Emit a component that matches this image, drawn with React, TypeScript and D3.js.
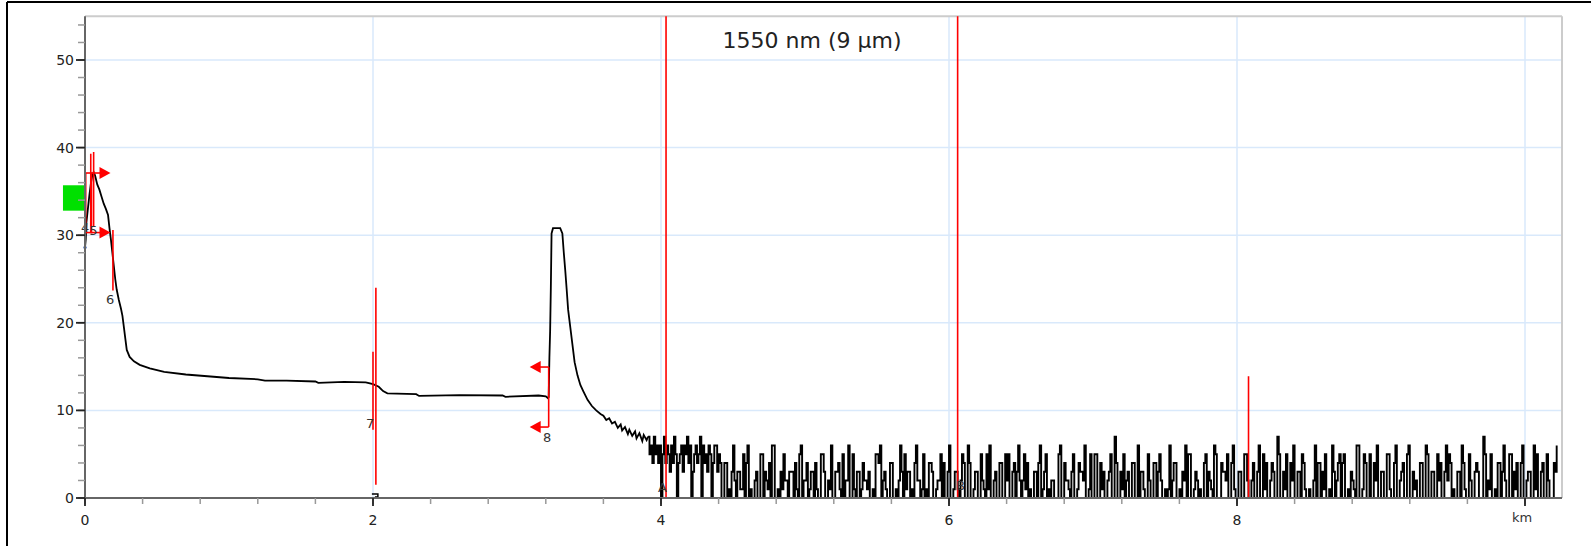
import React from "react";
import * as d3 from "d3";

// ---------- data ----------
const title = "1550 nm (9 µm)";
const yTicks = [0, 10, 20, 30, 40, 50];
const yMinor = d3.range(0, 56, 2);
const xTicks = [0, 2, 4, 6, 8];
const xMinor = d3.range(0, 10.3, 0.4);
const xGrid = [2, 4, 6, 8, 10];
const xUnit = "km";

// trace before the noise floor (km, dB)
const traceKm = [0, 0.005, 0.01, 0.02, 0.03, 0.04, 0.05, 0.06, 0.07, 0.085, 0.1, 0.115, 0.13, 0.145, 0.16, 0.17, 0.18, 0.19, 0.2, 0.21, 0.22, 0.235, 0.25, 0.26, 0.27, 0.28, 0.29, 0.31, 0.34, 0.38, 0.45, 0.55, 0.7, 0.85, 1.0, 1.2, 1.25, 1.4, 1.6, 1.62, 1.8, 1.95, 2.0, 2.04, 2.07, 2.1, 2.3, 2.32, 2.6, 2.9, 2.92, 3.15, 3.2, 3.215, 3.22, 3.225, 3.23, 3.235, 3.24, 3.25, 3.3, 3.315, 3.325, 3.335, 3.345, 3.355, 3.37, 3.385, 3.4, 3.42, 3.44, 3.46, 3.49, 3.52, 3.55, 3.58, 3.6, 3.62, 3.64, 3.66, 3.68, 3.7, 3.72, 3.73, 3.75, 3.77, 3.78, 3.8, 3.82, 3.83, 3.85, 3.87, 3.88, 3.9, 3.91];
const traceDb = [28.6, 29.5, 31.5, 33, 34.5, 35.8, 36.8, 37.2, 36.8, 35.8, 35.2, 34.4, 33.6, 33.0, 32.3, 30.8, 29.5, 28.0, 26.5, 25.0, 23.8, 22.6, 21.6, 20.8, 19.5, 18.2, 16.9, 16.1, 15.6, 15.2, 14.8, 14.4, 14.1, 13.9, 13.7, 13.55, 13.4, 13.4, 13.3, 13.15, 13.25, 13.2, 13.0, 12.7, 12.2, 11.95, 11.85, 11.65, 11.75, 11.7, 11.55, 11.7, 11.6, 11.4, 11.5, 16, 19, 24, 30.2, 30.8, 30.8, 30.2, 28, 26, 23.8, 21.5, 19.5, 17.5, 15.5, 14, 12.9, 12.2, 11.2, 10.5, 10.0, 9.6, 9.4, 8.9, 9.1, 8.5, 8.7, 8.0, 8.4, 7.7, 8.1, 7.3, 7.8, 7.1, 7.6, 6.8, 7.4, 6.5, 7.2, 6.6, 7.0];

// noise floor, one digit (dB) per 0.01 km starting at 3.92 km
const noiseStartKm = 3.92;
const noiseStepKm = 0.01;
const noiseDigits =
  "56475646057465364750456365746035645706453650466354" +
  "00440103620331150460100230055032140660010315220333" +
  "04105602240133041005530021600334105022600510330142" +
  "21300105546023100440010263051330104622015010443001" +
  "22504003600133102540064001330052105160023004400525" +
  "00340362025140100330460135010220005600422103500143" +
  "32600150055004130023500740031502300440060331005200" +
  "44035200101602440010326055001320100450321065000433" +
  "25004610033005520024003600514002430075003150042600" +
  "33054100100260440315001063024504500103210660015400" +
  "50042600330055100460023400560031200440065003300524" +
  "00362540100330641005200343000750215001044036200550" +
  "3140046002330061500340052000436002550";

// event markers: vertical red lines (km, from dB, to dB)
const redLines = [
  { km: 0.04, from: 30.3, to: 39.3 },
  { km: 0.06, from: 31.0, to: 39.5 },
  { km: 0.194, from: 30.6, to: 23.7 },
  { km: 2.0, from: 16.7, to: 7.8 },
  { km: 2.02, from: 24.0, to: 1.5 },
  { km: 3.22, from: 14.95, to: 8.1 },
  { km: 4.035, from: 0, to: 55 },
  { km: 6.06, from: 0, to: 55 },
  { km: 8.08, from: 0, to: 13.9 },
];
// bracket rectangle of events 4/5
const bracket = { km0: 0.005, km1: 0.045, db0: 30.3, db1: 37.1 };
// arrows: (km of base, dB, direction)
const arrows = [
  { km: 0.045, db: 37.1, dir: 1 },
  { km: 0.045, db: 30.3, dir: 1 },
  { km: 3.22, db: 14.95, dir: -1 },
  { km: 3.22, db: 8.1, dir: -1 },
];
// green launch box
const launchBox = { km0: -0.153, km1: -0.007, db0: 32.8, db1: 35.7 };
// event labels (text, km, dB at baseline, anchor)
const eventLabels = [
  { t: "4", km: 0.03, db: 30.4, a: "end" },
  { t: "5", km: 0.03, db: 30.0, a: "start" },
  { t: "6", km: 0.175, db: 22.2, a: "middle" },
  { t: "7", km: 1.98, db: 8.0, a: "middle" },
  { t: "8", km: 3.21, db: 6.4, a: "middle" },
  { t: "A", km: 4.01, db: 0.7, a: "middle" },
  { t: "B", km: 6.08, db: 0.9, a: "middle" },
];

// ---------- layout ----------
const W = 1591;
const H = 546;
const left = 85;
const bottom = 498;
const plotRight = 1562;

export default function App() {
  const x = d3.scaleLinear().domain([0, 10]).range([left, 1525]);
  const y = d3.scaleLinear().domain([0, 50]).range([bottom, 60]);
  const yTop = y(55);

  const main = traceKm.map((k, i) => [k, traceDb[i]] as [number, number]);
  const noise: [number, number][] = [[traceKm[traceKm.length - 1], traceDb[traceDb.length - 1]]];
  for (let i = 0; i < noiseDigits.length; i++) {
    const k = noiseStartKm + i * noiseStepKm;
    if (x(k) > plotRight - 4) break;
    noise.push([k, +noiseDigits[i]]);
  }
  const lineMain = d3.line<[number, number]>().x((d) => x(d[0])).y((d) => y(d[1]));
  const lineNoise = d3
    .line<[number, number]>()
    .x((d) => x(d[0]))
    .y((d) => y(d[1]))
    .curve(d3.curveStepAfter);

  const font = "DejaVu Sans, Verdana, sans-serif";
  const red = "#ff0000";
  const grid = "#d9e9fb";

  return (
    <svg
      width={W}
      height={H}
      style={{ position: "absolute", left: 0, top: 0, background: "#fff" }}
      fontFamily={font}
    >
      {/* outer frame */}
      <line x1={7} y1={2} x2={W} y2={2} stroke="#000" strokeWidth={2} />
      <line x1={7} y1={2} x2={7} y2={H} stroke="#000" strokeWidth={2} />

      {/* grid */}
      {yTicks.filter((t) => t > 0).map((t) => (
        <line key={"gy" + t} x1={left} x2={plotRight} y1={y(t)} y2={y(t)} stroke={grid} strokeWidth={1.5} />
      ))}
      {xGrid.map((t) => (
        <line key={"gx" + t} x1={x(t)} x2={x(t)} y1={yTop} y2={bottom} stroke={grid} strokeWidth={1.5} />
      ))}
      {/* plot frame */}
      <line x1={left} x2={plotRight} y1={yTop} y2={yTop} stroke="#cccccc" strokeWidth={2} />
      <line x1={plotRight} x2={plotRight} y1={yTop} y2={bottom} stroke="#cccccc" strokeWidth={2} />

      {/* title */}
      <text x={812} y={48} fontSize={22} textAnchor="middle" fill="#222">
        {title}
      </text>

      {/* green launch box */}
      <rect
        x={x(launchBox.km0)}
        width={x(launchBox.km1) - x(launchBox.km0)}
        y={y(launchBox.db1)}
        height={y(launchBox.db0) - y(launchBox.db1)}
        fill="#00e000"
      />

      {/* trace */}
      <path d={lineMain(main) || ""} fill="none" stroke="#000" strokeWidth={1.8} />
      <path d={lineNoise(noise) || ""} fill="none" stroke="#000" strokeWidth={1.9} />
      <circle cx={x(0)} cy={y(28.6)} r={1.6} fill="#2050b0" />

      {/* red markers */}
      {redLines.map((m, i) => (
        <line key={"rl" + i} x1={x(m.km)} x2={x(m.km)} y1={y(m.from)} y2={y(m.to)} stroke={red} strokeWidth={1.6} />
      ))}
      <rect
        x={x(bracket.km0)}
        width={x(bracket.km1) - x(bracket.km0)}
        y={y(bracket.db1)}
        height={y(bracket.db0) - y(bracket.db1)}
        fill="none"
        stroke={red}
        strokeWidth={1.6}
      />
      {arrows.map((a, i) => {
        const bx = x(a.km);
        const by = y(a.db);
        const d = a.dir;
        return (
          <g key={"ar" + i}>
            <line x1={bx} x2={bx + d * 10} y1={by} y2={by} stroke={red} strokeWidth={1.6} />
            <path d={`M${bx + d * 8},${by - 6} L${bx + d * 19},${by} L${bx + d * 8},${by + 6} Z`} fill={red} />
          </g>
        );
      })}
      {/* tiny marker at 2 km baseline */}
      <path
        d={`M${x(2.02) - 4},${bottom - 4} h6 v3 h-3`}
        fill="none"
        stroke="#000"
        strokeWidth={1.5}
      />

      {/* event labels */}
      {eventLabels.map((l, i) => (
        <text
          key={"el" + i}
          x={x(l.km)}
          y={y(l.db)}
          fontSize={13}
          textAnchor={l.a as any}
          fill="#333"
        >
          {l.t}
        </text>
      ))}

      {/* axes */}
      <line x1={left} x2={left} y1={yTop} y2={bottom + 1} stroke="#666" strokeWidth={2} />
      <line x1={left} x2={plotRight} y1={bottom} y2={bottom} stroke="#666" strokeWidth={2} />
      {yMinor.map((t) => (
        <line key={"ym" + t} x1={left - 7} x2={left} y1={y(t)} y2={y(t)} stroke="#999" strokeWidth={1.5} />
      ))}
      {yTicks.map((t) => (
        <g key={"yt" + t}>
          <line x1={left - 9} x2={left} y1={y(t)} y2={y(t)} stroke="#222" strokeWidth={1.8} />
          <text x={left - 11} y={y(t) + 5} fontSize={14} textAnchor="end" fill="#222">
            {t}
          </text>
        </g>
      ))}
      {xMinor.map((t) => (
        <line key={"xm" + t} x1={x(t)} x2={x(t)} y1={bottom} y2={bottom + 6} stroke="#999" strokeWidth={1.5} />
      ))}
      {[...xTicks, 10].map((t) => (
        <line key={"xt" + t} x1={x(t)} x2={x(t)} y1={bottom} y2={bottom + 8} stroke="#222" strokeWidth={1.8} />
      ))}
      {xTicks.map((t) => (
        <text key={"xl" + t} x={x(t)} y={bottom + 27} fontSize={14} textAnchor="middle" fill="#222">
          {t}
        </text>
      ))}
      <text x={x(10) - 3} y={bottom + 24} fontSize={13} textAnchor="middle" fill="#333">
        {xUnit}
      </text>
    </svg>
  );
}
